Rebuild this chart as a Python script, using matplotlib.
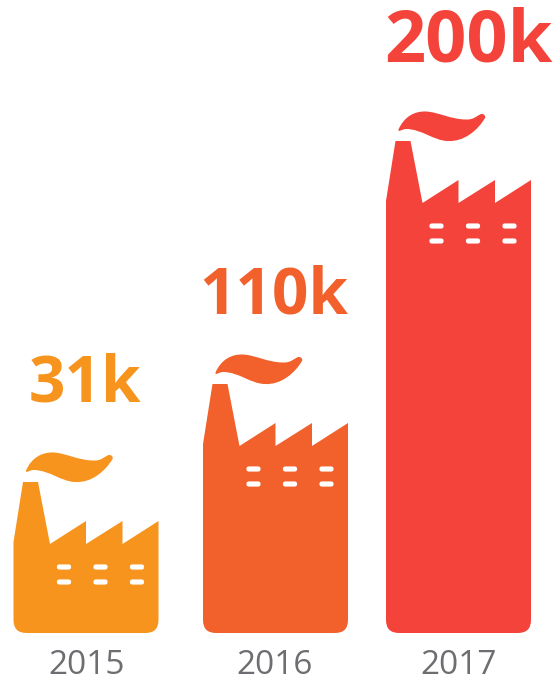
import matplotlib
matplotlib.use("Agg")
from matplotlib import pyplot as plt
from matplotlib.path import Path
from matplotlib.patches import PathPatch, FancyBboxPatch

years = ["2015", "2016", "2017"]
labels = ["31k", "110k", "200k"]
heights = [151, 249, 492]

colors = ["#F7941E", "#F2602B", "#F3433A"]
lefts = [13.5, 203, 386]
label_x = [85, 274, 468]
label_y = [402, 313, 62]
label_size = [46, 46, 52]
year_x = [87, 275, 459]

base = 633
width = 145

fig = plt.figure(figsize=(5.59, 6.82), dpi=100)
ax = fig.add_axes([0, 0, 1, 1])
ax.set_xlim(0, 559)
ax.set_ylim(682, 0)
ax.axis("off")


def factory(x0, top):
    r = 13
    s = top + 62
    p = top + 39
    verts = [(x0 + 9.5, top), (x0 + 24.5, top), (x0 + 36.5, s)]
    codes = [Path.MOVETO, Path.LINETO, Path.LINETO]
    for k in [72.5, 109, 145]:
        verts += [(x0 + k, p), (x0 + k, s)]
        codes += [Path.LINETO, Path.LINETO]
    verts.pop()
    codes.pop()
    verts += [(x0 + width, base - r), (x0 + width, base), (x0 + width - r, base),
              (x0 + r, base), (x0, base), (x0, base - r), (x0, s - 2), (x0 + 9.5, top), (x0 + 9.5, top)]
    codes += [Path.LINETO, Path.CURVE3, Path.CURVE3,
              Path.LINETO, Path.CURVE3, Path.CURVE3, Path.LINETO, Path.LINETO, Path.CLOSEPOLY]
    return Path(verts, codes)


def smoke(x0, top):
    pts = [(12.5, -11.5),
           (18, -24), (28, -30), (40, -29.5),
           (52, -29), (65, -21.5), (80, -21.5),
           (88, -21), (92, -26), (95, -27),
           (98, -27.5), (100, -25), (99, -23),
           (92, -11), (78, 1), (62, 0),
           (48, 0), (36, -12), (20, -12),
           (16, -12), (12, -8), (12.5, -11.5),
           (12.5, -11.5)]
    verts = [(x0 + a, top + b) for a, b in pts]
    codes = [Path.MOVETO] + [Path.CURVE4] * 21 + [Path.CLOSEPOLY]
    return Path(verts, codes)


for i in range(len(years)):
    x0 = lefts[i]
    top = base - heights[i]
    ax.add_patch(PathPatch(factory(x0, top), fc=colors[i], ec="none"))
    ax.add_patch(PathPatch(smoke(x0, top), fc=colors[i], ec="none"))
    # the little windows
    for dx in [43.5, 80, 116.5]:
        for dy in [85, 100]:
            ax.add_patch(FancyBboxPatch((x0 + dx + 2, top + dy - 0.5), 10, 1,
                                        boxstyle="round,pad=0,rounding_size=0.5",
                                        mutation_aspect=1, fc="white", ec="white", lw=3))
    ax.text(label_x[i], label_y[i], labels[i], color=colors[i], fontsize=label_size[i], fontweight="bold",
            family="Open Sans", ha="center", va="baseline")
    ax.text(year_x[i], 674, years[i], color="#6D6E71", fontsize=24,
            family="Open Sans", ha="center", va="baseline")

fig.savefig("out.png", dpi=100)
